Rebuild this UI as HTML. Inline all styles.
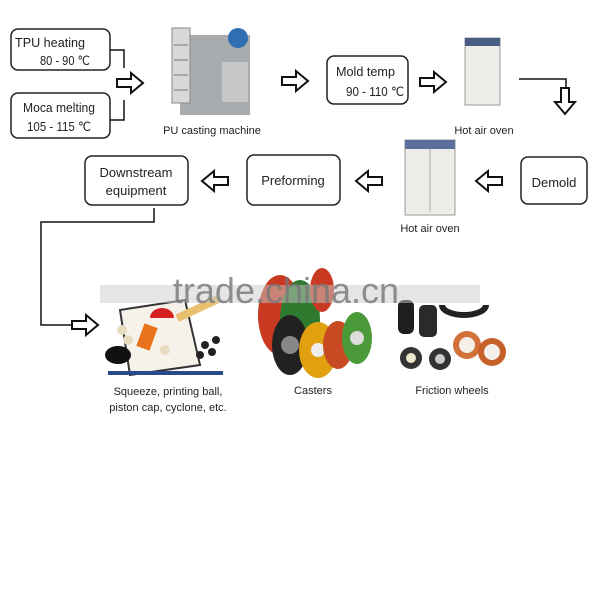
<!DOCTYPE html>
<html><head><style>body{margin:0;background:#fff}svg{display:block}text{font-family:"Liberation Sans",sans-serif;fill:#222}</style></head>
<body>
<svg width="600" height="600" viewBox="0 0 600 600" xmlns="http://www.w3.org/2000/svg">
<defs>
<g id="ar"><path d="M0,-4 H14 V-10 L26,0 L14,10 V4 H0 Z" fill="#fff" stroke="#111" stroke-width="2"/></g>
</defs>
<g fill="#fff" stroke="#222" stroke-width="1.5">
<rect x="11" y="29" width="99" height="41" rx="7"/>
<rect x="11" y="93" width="99" height="45" rx="7"/>
<rect x="327" y="56" width="81" height="48" rx="7"/>
<rect x="521" y="157" width="66" height="47" rx="7"/>
<rect x="247" y="155" width="93" height="50" rx="7"/>
<rect x="85" y="156" width="103" height="49" rx="7"/>
</g>
<g fill="none" stroke="#111" stroke-width="1.5">
<path d="M110,50 H124 V68"/><path d="M110,120 H124 V100"/>
<path d="M519,79 H566 V88"/>
<path d="M154,208 V222 H41 V325 H72"/>
</g>
<use href="#ar" x="117" y="83"/>
<use href="#ar" x="282" y="81"/>
<use href="#ar" x="420" y="82"/>
<use href="#ar" transform="translate(565,88) rotate(90)"/>
<use href="#ar" transform="translate(502,181) rotate(180)"/>
<use href="#ar" transform="translate(382,181) rotate(180)"/>
<use href="#ar" transform="translate(228,181) rotate(180)"/>
<use href="#ar" x="72" y="325"/>
<!-- machine -->
<rect x="180" y="35" width="70" height="80" fill="#a9acae"/>
<rect x="172" y="28" width="18" height="75" fill="#d6d8da" stroke="#888"/>
<g stroke="#777"><line x1="174" y1="45" x2="188" y2="45"/><line x1="174" y1="60" x2="188" y2="60"/><line x1="174" y1="75" x2="188" y2="75"/><line x1="174" y1="90" x2="188" y2="90"/></g>
<rect x="222" y="62" width="26" height="40" fill="#c8c8c8"/>
<circle cx="238" cy="38" r="10" fill="#2f6fb1"/>
<!-- ovens -->
<rect x="465" y="38" width="35" height="67" fill="#ecece8" stroke="#999"/>
<rect x="465" y="38" width="35" height="8" fill="#4a5d85"/>
<rect x="405" y="140" width="50" height="75" fill="#ecece8" stroke="#999"/>
<rect x="405" y="140" width="50" height="9" fill="#5a6f99"/>
<line x1="430" y1="149" x2="430" y2="212" stroke="#aaa"/>
<!-- products -->
<path d="M120,310 L185,300 L200,365 L130,375 Z" fill="#f6f2ea" stroke="#333" stroke-width="2"/>
<rect x="108" y="371" width="115" height="4" fill="#2a4a8a"/>
<ellipse cx="118" cy="355" rx="13" ry="9" fill="#111"/>
<rect x="140" y="325" width="14" height="24" fill="#e8731a" transform="rotate(20 147 337)"/>
<path d="M150,318 a12,10 0 0 1 24,0" fill="#d62020"/>
<rect x="175" y="305" width="45" height="8" fill="#e8c070" transform="rotate(-25 197 309)"/>
<g fill="#222"><circle cx="205" cy="345" r="4"/><circle cx="212" cy="352" r="4"/><circle cx="200" cy="355" r="4"/><circle cx="216" cy="340" r="4"/></g>
<g fill="#e8dcc0"><circle cx="122" cy="330" r="5"/><circle cx="128" cy="340" r="5"/><circle cx="165" cy="350" r="5"/></g>
<!-- casters -->
<ellipse cx="280" cy="315" rx="22" ry="40" fill="#c83a22"/>
<ellipse cx="300" cy="320" rx="20" ry="40" fill="#2e7a2e"/>
<ellipse cx="290" cy="345" rx="18" ry="30" fill="#222"/><circle cx="290" cy="345" r="9" fill="#888"/>
<ellipse cx="318" cy="350" rx="19" ry="28" fill="#e0a010"/><circle cx="318" cy="350" r="7" fill="#eee"/>
<ellipse cx="338" cy="345" rx="15" ry="24" fill="#c84a22"/>
<ellipse cx="357" cy="338" rx="15" ry="26" fill="#4a9a3a"/><circle cx="357" cy="338" r="7" fill="#ddd"/>
<ellipse cx="322" cy="290" rx="12" ry="22" fill="#c83a22"/>
<!-- friction -->
<rect x="398" y="300" width="16" height="34" rx="6" fill="#1e1e1e"/>
<rect x="419" y="305" width="18" height="32" rx="5" fill="#2a2a2a"/>
<path d="M442,305 a22,10 0 0 0 44,0" fill="none" stroke="#222" stroke-width="6"/>
<circle cx="411" cy="358" r="11" fill="#333"/><circle cx="411" cy="358" r="5" fill="#eee8cc"/>
<circle cx="440" cy="359" r="11" fill="#333"/><circle cx="440" cy="359" r="5" fill="#ccc"/>
<circle cx="467" cy="345" r="14" fill="#d2703a"/><circle cx="467" cy="345" r="8" fill="#f4efe8"/>
<circle cx="492" cy="352" r="14" fill="#c8602a"/><circle cx="492" cy="352" r="8" fill="#f4efe8"/>
<!-- watermark -->
<rect x="100" y="285" width="380" height="18" fill="#ccc" opacity="0.5"/>
<text x="286" y="303" font-size="36" text-anchor="middle" style="fill:#777" opacity="0.8">trade.china.cn</text>
<!-- labels -->
<g font-size="13">
<text x="15" y="47" textLength="70" lengthAdjust="spacingAndGlyphs">TPU heating</text>
<text x="40" y="65" textLength="50" lengthAdjust="spacingAndGlyphs">80 - 90 ℃</text>
<text x="23" y="112" textLength="72" lengthAdjust="spacingAndGlyphs">Moca melting</text>
<text x="27" y="131" textLength="64" lengthAdjust="spacingAndGlyphs">105 - 115 ℃</text>
<text x="336" y="76" textLength="59" lengthAdjust="spacingAndGlyphs">Mold temp</text>
<text x="346" y="96" textLength="58" lengthAdjust="spacingAndGlyphs">90 - 110 ℃</text>
<text x="554" y="187" text-anchor="middle">Demold</text>
<text x="293" y="185" text-anchor="middle">Preforming</text>
<text x="136" y="177" text-anchor="middle">Downstream</text>
<text x="136" y="195" text-anchor="middle">equipment</text>
</g>
<g font-size="11">
<text x="212" y="134" text-anchor="middle">PU casting machine</text>
<text x="484" y="134" text-anchor="middle">Hot air oven</text>
<text x="430" y="232" text-anchor="middle">Hot air oven</text>
<text x="168" y="395" text-anchor="middle">Squeeze, printing ball,</text>
<text x="168" y="411" text-anchor="middle">piston cap, cyclone, etc.</text>
<text x="313" y="394" text-anchor="middle">Casters</text>
<text x="452" y="394" text-anchor="middle">Friction wheels</text>
</g>
</svg>
</body></html>
